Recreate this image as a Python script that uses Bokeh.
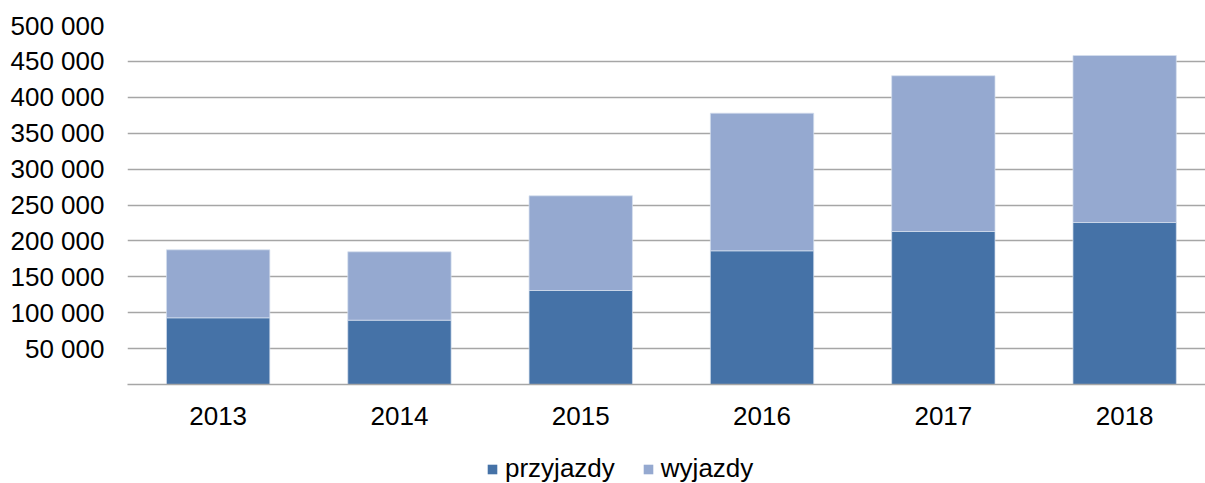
from bokeh.plotting import figure
from bokeh.layouts import column
from bokeh.models import Range1d, FixedTicker, Legend, LegendItem, ColumnDataSource
from bokeh.embed import file_html
from bokeh.resources import INLINE

# ---- data ----
years = ["2013", "2014", "2015", "2016", "2017", "2018"]
przyjazdy = [92900, 89600, 130900, 186200, 213100, 225600]
wyjazdy = [94700, 95200, 131900, 191700, 216900, 232600]
series_names = ["przyjazdy", "wyjazdy"]
y_ticks = [0, 50000, 100000, 150000, 200000, 250000, 300000, 350000, 400000, 450000, 500000]
y_tick_labels = ["", "50 000", "100 000", "150 000", "200 000", "250 000",
                 "300 000", "350 000", "400 000", "450 000", "500 000"]

colors = ["#4572a7", "#95a9d0"]
FONT = "Liberation Sans"

src = ColumnDataSource(dict(x=list(range(len(years))), przyjazdy=przyjazdy, wyjazdy=wyjazdy))

p = figure(width=1205, height=445, output_backend="svg", toolbar_location=None,
           x_range=Range1d(-0.5, 5.446), y_range=Range1d(0, 500000),
           min_border_left=127, min_border_right=0, min_border_top=25, min_border_bottom=61)
p.outline_line_color = None
p.background_fill_color = "white"
p.border_fill_color = "white"

rs = p.vbar_stack(series_names, x="x", width=0.57, source=src, fill_color=colors,
                  line_color="#d6dfee", line_width=1, line_alpha=0.7)

# grid
p.xgrid.grid_line_color = None
p.ygrid.grid_line_color = "#a6a6a6"
p.ygrid.grid_line_width = 1.5

# y axis
p.yaxis.ticker = FixedTicker(ticks=y_ticks)
p.yaxis.major_label_overrides = {t: l for t, l in zip(y_ticks, y_tick_labels)}
p.yaxis.axis_line_color = None
p.yaxis.major_tick_line_color = None
p.yaxis.minor_tick_line_color = None
p.yaxis.major_tick_out = 0
p.yaxis.major_tick_in = 0
p.yaxis.major_label_standoff = 23
p.yaxis.major_label_text_font = FONT
p.yaxis.major_label_text_font_size = "26px"
p.yaxis.major_label_text_color = "#000000"

# x axis
p.xaxis.ticker = FixedTicker(ticks=list(range(len(years))))
p.xaxis.major_label_overrides = {i: y for i, y in enumerate(years)}
p.xaxis.axis_line_color = "#a6a6a6"
p.xaxis.axis_line_width = 1.5
p.xaxis.major_tick_line_color = None
p.xaxis.minor_tick_line_color = None
p.xaxis.major_tick_out = 0
p.xaxis.major_tick_in = 0
p.xaxis.major_label_standoff = 22
p.xaxis.major_label_text_font = FONT
p.xaxis.major_label_text_font_size = "26px"
p.xaxis.major_label_text_color = "#000000"

# ---- legend strip below the chart ----
pl = figure(width=1205, height=38, output_backend="svg", toolbar_location=None,
            x_axis_type=None, y_axis_type=None,
            x_range=Range1d(-0.5, 5.446), y_range=Range1d(0, 500000),
            min_border_left=0, min_border_right=0, min_border_top=0, min_border_bottom=0)
pl.outline_line_color = None
pl.xgrid.grid_line_color = None
pl.ygrid.grid_line_color = None
rs2 = pl.vbar_stack(series_names, x="x", width=0.57, source=src, fill_color=colors,
                    line_color=None, visible=False)

legend = Legend(items=[LegendItem(label=n, renderers=[r]) for n, r in zip(series_names, rs2)],
                orientation="horizontal", location=(359, -1),
                padding=0, margin=0, spacing=27,
                glyph_width=12, glyph_height=12, label_standoff=7,
                label_text_font=FONT, label_text_font_size="26px", label_text_color="#000000",
                border_line_color=None, background_fill_alpha=0)
pl.add_layout(legend)

layout = column(p, pl, spacing=0)
open("out.html", "w").write(file_html(layout, INLINE))
